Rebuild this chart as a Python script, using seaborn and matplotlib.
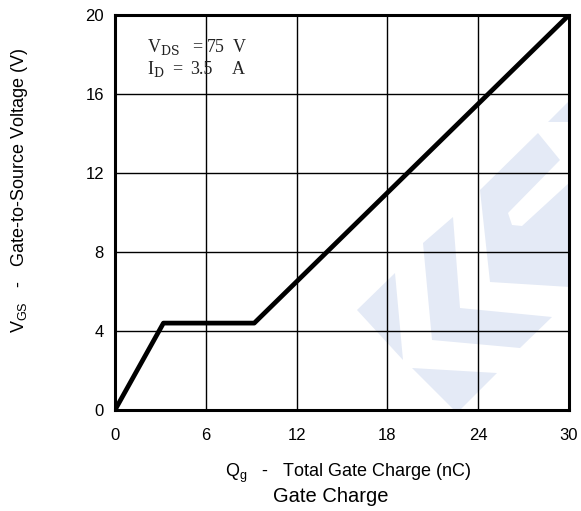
import matplotlib
matplotlib.use("Agg")
import matplotlib.pyplot as plt
import seaborn as sns
import pandas as pd
from matplotlib.patches import Polygon

# data
qg_nc = [0, 3.2, 9.2, 30]
vgs_v = [0, 4.4, 4.4, 20]
x_ticks = [0, 6, 12, 18, 24, 30]
y_ticks = [0, 4, 8, 12, 16, 20]

df = pd.DataFrame({"Qg": qg_nc, "Vgs": vgs_v})

sns.set_theme(style="white")
plt.rcParams['font.family'] = ['Liberation Sans', 'DejaVu Sans']
plt.rcParams['mathtext.fontset'] = 'custom'
plt.rcParams['mathtext.rm'] = 'Liberation Sans'
plt.rcParams['mathtext.it'] = 'Liberation Sans'

W, H = 581, 511
fig = plt.figure(figsize=(W / 100, H / 100), dpi=100)
ax = fig.add_axes([115 / W, 1 - 410 / H, (569 - 115) / W, (410 - 15) / H])

# watermark (pixel coords of figure)
wm_color = "#e4eaf6"
wm_polys = [
    [(357, 310), (395, 273), (403, 360)],
    [(412, 368), (497, 373), (457, 413)],
    [(423, 243), (453, 217), (460, 308), (552, 317), (520, 348), (432, 340)],
    [(480, 190), (538, 133), (560, 160), (508, 213), (512, 225), (522, 226),
     (570, 182), (570, 287), (490, 282)],
    [(548, 122), (570, 100), (570, 122)],
]
for poly in wm_polys:
    pts = [(px, H - py) for px, py in poly]
    p = Polygon(pts, closed=True, facecolor=wm_color, edgecolor="none",
                transform=None, zorder=0)
    p.set_clip_path(ax.patch)
    ax.add_patch(p)

sns.lineplot(data=df, x="Qg", y="Vgs", ax=ax, color="black", linewidth=3.4,
             zorder=5, solid_capstyle="butt")

ax.set_xlim(0, 30)
ax.set_ylim(0, 20)
ax.set_xticks(x_ticks)
ax.set_yticks(y_ticks)
ax.grid(True, color="black", linewidth=1.0)
for line in ax.get_xgridlines() + ax.get_ygridlines():
    line.set_zorder(2)
for s in ax.spines.values():
    s.set_color("black")
    s.set_linewidth(2.2)
    s.set_zorder(6)
ax.tick_params(axis="both", length=0, labelsize=12, colors="black")
ax.tick_params(axis="x", pad=13)
ax.tick_params(axis="y", pad=8)
ax.set_xlabel("")
ax.set_ylabel("")

fig.text(225 / W, 1 - 477 / H, r"Q$_{\mathrm{g}}$   -   Total Gate Charge (nC)",
         ha="left", va="baseline", fontsize=13, color="black")
fig.text(331 / W, 1 - 502 / H, "Gate Charge", ha="center", va="baseline",
         fontsize=14.5, color="black")
fig.text(20 / W, 1 - 190 / H, r"V$_{\mathrm{GS}}$   -   Gate-to-Source Voltage (V)",
         ha="center", va="center", rotation=90, fontsize=13, color="black")

ann_font = ['Liberation Serif', 'DejaVu Serif']
ann = [
    (147, 47, r"V$_{\mathrm{DS}}$"), (192, 47, "="), (207, 47, "75"), (233, 47, "V"),
    (147, 69, r"I$_{\mathrm{D}}$"), (172, 69, "="), (190, 69, "3.5"), (232, 69, "A"),
]
for px, py, s in ann:
    t = fig.text(px / W, 1 - py / H, s, ha="left", va="center", fontsize=13,
                 family=ann_font, color="#222222", zorder=7)
    if "$" in s:
        t.set_math_fontfamily("dejavuserif")

fig.savefig("out.png", dpi=100, facecolor="white")
